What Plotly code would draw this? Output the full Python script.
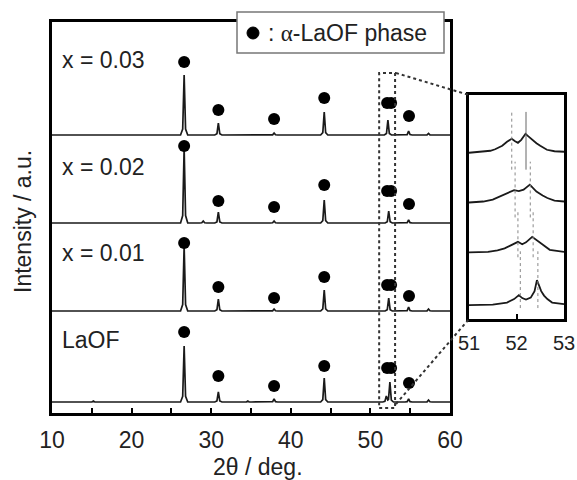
import numpy as np
import plotly.graph_objects as go

W, H = 577, 480
FONT = "Liberation Sans, Arial, sans-serif"

# ---------------- data ----------------
samples = ["LaOF", "x = 0.01", "x = 0.02", "x = 0.03"]

# XRD peaks in the main panel: positions (2θ / deg) and intensities (a.u.)
pos_laof = [15.2, 26.6, 30.9, 34.6, 37.9, 44.2, 52.0, 52.45, 54.8, 57.3]
int_laof = [1, 56, 10, 1, 3, 24, 6, 20, 3, 2]
pos_x001 = [26.6, 30.9, 37.9, 44.2, 52.3, 54.8, 57.3]
int_x001 = [65, 12, 2, 21, 13, 4, 2]
pos_x002 = [26.6, 29.0, 30.9, 37.9, 44.2, 52.3, 54.8]
int_x002 = [75, 2, 11, 2, 23, 12, 3]
pos_x003 = [26.6, 30.9, 37.9, 44.2, 52.2, 54.8, 57.3]
int_x003 = [60, 12, 2, 23, 15, 4, 1.5]

# α-LaOF phase markers (position and height above each pattern)
dot_pos = [26.6, 30.9, 37.9, 44.2, 52.1, 52.6, 54.85]
dot_laof = [70, 26, 16, 36, 34, 34, 19]
dot_x001 = [68, 24, 13, 34, 26, 26, 15]
dot_x002 = [77, 22, 16, 38, 32, 32, 19]
dot_x003 = [73, 25, 16, 37, 32, 32, 19]

# inset (51–53 deg) profiles
ins_x_laof = [51.0, 51.5, 51.8, 51.95, 52.05, 52.12, 52.2, 52.3, 52.38, 52.43, 52.48, 52.52, 52.58, 52.65, 52.75, 53.0]
ins_i_laof = [0, 0.5, 2.5, 6, 10, 7, 5.5, 7.5, 14, 25, 19, 14, 9.5, 6, 2.5, 1]
ins_x_x001 = [51.0, 51.4, 51.6, 51.75, 51.88, 51.97, 52.03, 52.12, 52.2, 52.33, 52.4, 52.47, 52.58, 52.7, 53.0]
ins_i_x001 = [0, 0.5, 2, 4, 7, 9.5, 10.5, 8, 10, 15.5, 13, 10, 6, 2.5, 0.5]
ins_x_x002 = [51.0, 51.3, 51.5, 51.7, 51.85, 51.95, 52.05, 52.15, 52.28, 52.35, 52.42, 52.55, 52.65, 52.8, 53.0]
ins_i_x002 = [0, 1, 3, 7, 10.5, 12.5, 11.5, 13, 18, 14, 11, 7, 4.5, 2, 1]
ins_x_x003 = [51.0, 51.3, 51.45, 51.55, 51.7, 51.8, 51.9, 51.97, 52.03, 52.1, 52.19, 52.25, 52.33, 52.42, 52.5, 52.64, 52.8, 53.0]
ins_i_x003 = [0, 1, 2, 3.5, 7, 11, 14, 11.5, 10, 13, 19, 16.5, 13, 9.5, 7, 3, 1.5, 1]

# peak-position guide lines in the inset
guide_laof = [52.08, 52.45]
guide_x001 = [52.03, 52.35]
guide_x002 = [51.97, 52.29]
guide_x003 = [51.90, 52.20]

x_ticks = [10, 15, 20, 25, 30, 35, 40, 45, 50, 55, 60]
x_ticklabels = ["10", "", "20", "", "30", "", "40", "", "50", "", "60"]
inset_ticks = [51, 52, 53]
inset_ticklabels = ["51", "52", "53"]

# ---------------- layout constants (pixels) ----------------
main_offsets = [11, 102, 190, 278]
inset_offsets = [14, 67, 117, 167]
guide_spans = [(-3, 54), (-5, 43), (-15, 41), (-17, 41)]
label_y_px = [340, 253, 167, 60]

def px(x):
    return x / W

def py(y):
    return 1 - y / H

def profile(pos, inten):
    # narrow peak profile drawn for each listed peak
    grid = [10.0, 60.0]
    for p in pos:
        grid += [p - 0.45, p - 0.18, p, p + 0.18, p + 0.45]
    grid = np.unique(np.array(grid))
    y = np.zeros_like(grid)
    for p, h in zip(pos, inten):
        y += np.interp(grid, [p - 0.45, p - 0.18, p, p + 0.18, p + 0.45],
                       [0, 0.1 * h, h, 0.1 * h, 0], left=0, right=0)
    return grid, y

fig = go.Figure()

main_sets = [(pos_laof, int_laof, dot_laof), (pos_x001, int_x001, dot_x001),
             (pos_x002, int_x002, dot_x002), (pos_x003, int_x003, dot_x003)]
for (pp, ii, dd), off in zip(main_sets, main_offsets):
    gx, gy = profile(pp, ii)
    fig.add_trace(go.Scatter(x=gx, y=gy + off, mode="lines",
                             line=dict(color="#1a1a1a", width=1.7),
                             xaxis="x", yaxis="y", hoverinfo="skip"))
    fig.add_trace(go.Scatter(x=dot_pos, y=np.array(dd) + off, mode="markers",
                             marker=dict(color="black", size=12),
                             xaxis="x", yaxis="y", hoverinfo="skip"))

inset_sets = [(ins_x_laof, ins_i_laof, guide_laof), (ins_x_x001, ins_i_x001, guide_x001),
              (ins_x_x002, ins_i_x002, guide_x002), (ins_x_x003, ins_i_x003, guide_x003)]
shapes = []
for k, ((xx, ii, gl), off, span) in enumerate(zip(inset_sets, inset_offsets, guide_spans)):
    for j, g in enumerate(gl):
        solid = (k == 3 and j == 1)
        shapes.append(dict(type="line", xref="x2", yref="y2", x0=g, x1=g,
                           y0=off + span[0], y1=off + span[1],
                           line=dict(color="#666" if solid else "#888", width=1,
                                     dash="solid" if solid else "dot")))
    fig.add_trace(go.Scatter(x=xx, y=np.array(ii) + off, mode="lines",
                             line=dict(color="#1a1a1a", width=1.8),
                             xaxis="x2", yaxis="y2", hoverinfo="skip"))

# zoom box and connectors
shapes.append(dict(type="rect", xref="x", yref="y", x0=51.1, x1=53.1, y0=5, y1=340,
                   line=dict(color="#333", width=2, dash="dot")))
shapes.append(dict(type="line", xref="paper", yref="paper", x0=px(396), y0=py(73),
                   x1=px(469), y1=py(95), line=dict(color="#333", width=2, dash="dot")))
shapes.append(dict(type="line", xref="paper", yref="paper", x0=px(396), y0=py(404),
                   x1=px(469), y1=py(319), line=dict(color="#333", width=2, dash="dot")))
# legend box
shapes.append(dict(type="rect", xref="paper", yref="paper", x0=px(237), x1=px(444),
                   y0=py(53), y1=py(12), fillcolor="white",
                   line=dict(color="#777", width=1.5), layer="above"))
shapes.append(dict(type="circle", xref="paper", yref="paper", x0=px(247), x1=px(259),
                   y0=py(39), y1=py(27), fillcolor="black", line=dict(color="black", width=1)))

annotations = []
for name, yp in zip(samples, label_y_px):
    annotations.append(dict(text=name, x=px(60), y=py(yp), xref="paper", yref="paper",
                            xanchor="left", yanchor="middle", showarrow=False,
                            font=dict(size=23, color="#222", family=FONT)))
annotations.append(dict(text=": <span style='font-family:Liberation Serif'>α</span>-LaOF phase",
                        x=px(266), y=py(33), xref="paper", yref="paper",
                        xanchor="left", yanchor="middle", showarrow=False,
                        font=dict(size=23, color="#222", family=FONT)))
annotations.append(dict(text="Intensity / a.u.", x=px(23), y=py(222), xref="paper",
                        yref="paper", textangle=-90, showarrow=False,
                        xanchor="center", yanchor="middle",
                        font=dict(size=23, color="#222", family=FONT)))
annotations.append(dict(text="2θ / deg.", x=px(258), y=py(467), xref="paper",
                        yref="paper", showarrow=False, xanchor="center", yanchor="middle",
                        font=dict(size=23, color="#222", family=FONT)))

axis_common = dict(showgrid=False, zeroline=False, showline=True, linecolor="black",
                   mirror=True, automargin=False)
fig.update_layout(
    width=W, height=H, margin=dict(l=0, r=0, t=0, b=0, pad=0, autoexpand=False),
    paper_bgcolor="white", plot_bgcolor="white", showlegend=False,
    font=dict(family=FONT, color="#222"),
    xaxis=dict(domain=[px(52), px(450)], range=[10, 60], tickvals=x_ticks,
               ticktext=x_ticklabels, ticks="inside", ticklen=5, tickwidth=2,
               tickcolor="black", linewidth=2.5, tickfont=dict(size=23),
               ticklabelstandoff=5, anchor="y", **axis_common),
    yaxis=dict(domain=[py(413), py(22)], range=[0, 391], showticklabels=False,
               ticks="", linewidth=2.5, anchor="x", **axis_common),
    xaxis2=dict(domain=[px(469), px(564)], range=[51, 53], tickvals=inset_ticks,
                ticktext=inset_ticklabels, ticks="inside", ticklen=5, tickwidth=2,
                tickcolor="black", linewidth=2.5, tickfont=dict(size=20),
                ticklabelstandoff=4, anchor="y2", **axis_common),
    yaxis2=dict(domain=[py(319), py(95)], range=[0, 225], showticklabels=False,
                ticks="", linewidth=2.5, anchor="x2", **axis_common),
    shapes=shapes, annotations=annotations,
)

fig.write_html("out.html", config={"displayModeBar": False},
               post_script="document.body.style.margin='0';"
                           "document.body.style.overflow='hidden';")
